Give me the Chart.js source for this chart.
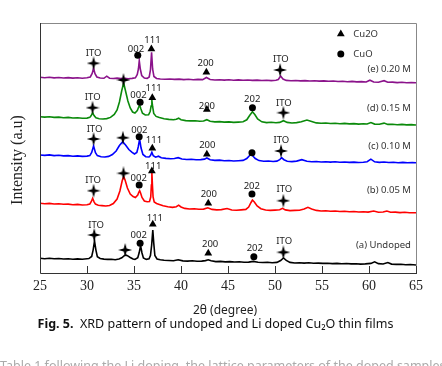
<!DOCTYPE html>
<html>
<head>
<meta charset="utf-8">
<script src="https://cdn.jsdelivr.net/npm/chart.js@4.4.0/dist/chart.umd.min.js"></script>
<style>
  html, body { margin: 0; padding: 0; background: #fff; }
</style>
</head>
<body>
<canvas id="xrd" width="442" height="366"></canvas>
<script>
// [2theta, intensity] pairs, curves already stacked with their offsets (a.u.)
const undoped = [
  [25.0, 14.7], [25.5, 14.3], [26.0, 14.8], [26.5, 14.2], [27.0, 14.5], [27.5, 14.0], [28.0, 14.3],
  [28.5, 13.8], [29.0, 14.1], [29.5, 13.7], [30.0, 14.2], [30.2, 14.4], [30.5, 16.5], [30.65, 22.9],
  [30.8, 32.0], [30.95, 22.9], [31.1, 16.3], [31.4, 14.5], [31.8, 13.9], [32.2, 13.6], [32.6, 13.8],
  [33.0, 13.3], [33.4, 13.9], [33.7, 15.2], [34.0, 17.5], [34.1, 18.0], [34.3, 17.3], [34.6, 15.5],
  [34.9, 14.0], [35.1, 13.6], [35.4, 15.2], [35.55, 20.2], [35.7, 27.3], [35.85, 20.0], [36.0, 15.0],
  [36.3, 13.6], [36.6, 14.2], [36.75, 17.5], [36.88, 28.0], [37.0, 43.0], [37.1, 30.0], [37.22, 17.5],
  [37.45, 14.0], [37.8, 13.3], [38.2, 12.8], [38.7, 12.5], [39.2, 12.3], [39.7, 13.2], [40.2, 12.1],
  [40.7, 11.9], [41.2, 12.2], [41.7, 11.7], [42.2, 11.9], [42.6, 12.4], [42.9, 13.2], [43.2, 12.2],
  [43.7, 11.4], [44.2, 11.6], [44.7, 11.1], [45.2, 11.4], [45.7, 11.0], [46.2, 11.2], [46.7, 10.7],
  [47.2, 10.9], [47.7, 11.6], [48.2, 10.8], [48.7, 10.5], [49.2, 10.7], [49.7, 10.3], [50.2, 10.6],
  [50.6, 12.5], [50.9, 15.0], [51.2, 12.6], [51.6, 10.6], [52.1, 10.0], [52.6, 10.3], [53.1, 9.9],
  [53.6, 10.2], [54.1, 9.8], [54.6, 9.9], [55.1, 9.6], [55.6, 9.8], [56.1, 9.4], [56.6, 9.6],
  [57.1, 9.2], [57.6, 9.5], [58.1, 9.1], [58.6, 9.3], [59.1, 8.9], [59.6, 9.1], [60.2, 9.6],
  [60.6, 11.2], [61.0, 9.4], [61.5, 9.0], [62.0, 10.4], [62.4, 8.9], [62.9, 8.6], [63.4, 8.8],
  [63.9, 8.3], [64.4, 8.5], [65.0, 8.0]
]
const li005 = [
  [25.0, 69.7], [25.5, 69.3], [26.0, 69.6], [26.5, 69.0], [27.0, 69.2], [27.5, 68.7], [28.0, 68.9],
  [28.5, 68.3], [29.0, 68.6], [29.5, 68.0], [30.0, 68.2], [30.3, 69.0], [30.45, 71.3], [30.6, 74.7],
  [30.75, 71.2], [30.9, 68.9], [31.2, 67.8], [31.6, 67.4], [32.0, 67.0], [32.4, 67.5], [32.8, 69.5],
  [33.2, 74.0], [33.5, 82.0], [33.75, 92.5], [33.9, 96.3], [34.05, 93.0], [34.3, 85.0], [34.6, 79.0],
  [34.9, 76.5], [35.15, 75.5], [35.4, 78.0], [35.5, 80.5], [35.6, 82.3], [35.7, 80.0], [35.85, 75.5],
  [36.1, 72.0], [36.4, 71.3], [36.65, 71.5], [36.78, 76.0], [36.85, 88.0], [36.9, 101.3], [36.96, 88.0],
  [37.03, 76.0], [37.15, 71.0], [37.4, 69.5], [37.7, 68.5], [38.1, 67.2], [38.6, 66.3], [39.1, 65.6],
  [39.5, 66.3], [39.75, 67.8], [40.0, 66.0], [40.4, 64.6], [40.9, 64.0], [41.4, 64.3], [41.9, 63.7],
  [42.4, 63.9], [42.85, 65.2], [43.3, 63.6], [43.8, 63.1], [44.3, 63.4], [44.9, 64.5], [45.4, 63.0],
  [45.9, 62.7], [46.4, 63.1], [46.9, 63.6], [47.2, 66.0], [47.45, 70.5], [47.6, 73.0], [47.8, 71.0],
  [48.1, 67.0], [48.5, 64.3], [49.0, 63.0], [49.5, 62.6], [50.0, 62.9], [50.5, 63.2], [50.8, 64.7],
  [51.1, 63.1], [51.6, 62.4], [52.1, 62.6], [52.6, 62.8], [53.1, 64.0], [53.5, 65.7], [53.9, 64.0],
  [54.4, 62.6], [54.9, 62.0], [55.4, 62.3], [55.9, 61.8], [56.4, 62.0], [56.9, 61.5], [57.4, 61.8],
  [57.9, 61.2], [58.4, 61.5], [58.9, 61.0], [59.4, 61.3], [59.9, 60.9], [60.5, 62.0], [61.0, 60.8],
  [61.5, 61.0], [61.9, 62.0], [62.3, 60.7], [62.8, 60.9], [63.3, 60.4], [63.8, 60.7], [64.3, 60.3],
  [65.0, 60.3]
]
const li010 = [
  [25.0, 118.0], [25.5, 117.6], [26.0, 118.1], [26.5, 117.4], [27.0, 117.7], [27.5, 117.1], [28.0, 117.4],
  [28.5, 116.8], [29.0, 117.1], [29.5, 116.6], [30.0, 116.9], [30.3, 117.4], [30.5, 120.5], [30.7, 127.0],
  [30.9, 120.3], [31.1, 117.4], [31.5, 116.3], [31.9, 116.0], [32.3, 116.6], [32.7, 118.5], [33.1, 122.0],
  [33.45, 127.5], [33.8, 131.3], [34.1, 128.0], [34.45, 123.5], [34.8, 120.6], [35.05, 119.0], [35.3, 120.5],
  [35.45, 126.0], [35.6, 134.0], [35.75, 125.0], [35.95, 118.5], [36.25, 116.3], [36.6, 116.0], [36.75, 117.5],
  [36.9, 120.7], [37.05, 117.3], [37.3, 115.8], [37.6, 116.8], [37.9, 115.2], [38.4, 114.6], [38.9, 114.2],
  [39.3, 114.5], [39.7, 115.3], [40.1, 114.0], [40.6, 113.5], [41.1, 113.7], [41.6, 113.2], [42.1, 113.4],
  [42.5, 113.9], [42.75, 115.0], [43.1, 113.3], [43.6, 112.6], [44.1, 112.9], [44.6, 112.3], [45.1, 112.5],
  [45.6, 112.0], [46.1, 112.3], [46.6, 112.6], [47.0, 114.5], [47.25, 117.0], [47.4, 118.7], [47.6, 117.5],
  [47.9, 114.5], [48.3, 112.4], [48.8, 111.8], [49.3, 112.0], [49.8, 111.5], [50.2, 111.9], [50.5, 113.3],
  [50.7, 115.3], [50.95, 113.3], [51.3, 111.8], [51.8, 111.4], [52.3, 111.9], [52.85, 113.3], [53.4, 111.8],
  [53.9, 111.2], [54.4, 111.5], [54.9, 111.0], [55.4, 111.3], [55.9, 110.9], [56.4, 111.2], [56.9, 110.7],
  [57.4, 111.0], [57.9, 110.6], [58.4, 110.9], [58.9, 110.5], [59.4, 110.8], [59.8, 111.3], [60.2, 113.8],
  [60.6, 111.2], [61.1, 110.6], [61.6, 111.0], [62.1, 110.5], [62.6, 110.8], [63.1, 110.3], [63.6, 110.6],
  [64.1, 110.2], [64.6, 110.5], [65.0, 110.3]
]
const li015 = [
  [25.0, 156.3], [25.5, 155.9], [26.0, 156.2], [26.5, 155.6], [27.0, 155.9], [27.5, 155.3], [28.0, 155.6],
  [28.5, 155.0], [29.0, 155.3], [29.5, 154.7], [30.0, 154.9], [30.3, 155.6], [30.45, 157.5], [30.6, 160.3],
  [30.75, 157.4], [30.95, 155.2], [31.3, 154.3], [31.7, 154.0], [32.1, 154.4], [32.5, 155.6], [32.9, 158.5],
  [33.2, 163.0], [33.45, 171.0], [33.7, 182.5], [33.9, 190.0], [34.1, 182.0], [34.35, 172.0], [34.6, 165.0],
  [34.85, 161.0], [35.1, 160.0], [35.35, 162.5], [35.5, 166.0], [35.6, 168.0], [35.72, 164.5], [35.9, 159.8],
  [36.2, 158.0], [36.55, 158.2], [36.72, 161.5], [36.82, 167.0], [36.9, 173.0], [36.98, 166.5], [37.1, 159.5],
  [37.35, 156.6], [37.7, 155.4], [38.2, 154.3], [38.7, 153.6], [39.2, 153.2], [39.5, 153.8], [39.75, 154.8],
  [40.0, 153.3], [40.5, 152.4], [41.0, 152.1], [41.5, 152.3], [42.0, 151.7], [42.4, 152.0], [42.75, 153.3],
  [43.1, 151.8], [43.6, 151.1], [44.1, 151.4], [44.6, 150.9], [45.1, 151.1], [45.6, 150.6], [46.1, 150.9],
  [46.6, 151.3], [47.0, 153.2], [47.3, 157.5], [47.6, 161.3], [47.85, 158.5], [48.15, 154.0], [48.6, 151.2],
  [49.1, 150.4], [49.6, 150.7], [50.1, 150.2], [50.5, 150.6], [50.9, 152.3], [51.3, 150.6], [51.8, 150.0],
  [52.3, 150.4], [52.8, 151.2], [53.4, 153.0], [53.9, 151.5], [54.4, 150.1], [54.9, 149.7], [55.4, 150.0],
  [55.9, 149.5], [56.4, 149.8], [56.9, 149.3], [57.4, 149.6], [57.9, 149.1], [58.4, 149.4], [58.9, 148.9],
  [59.4, 149.2], [59.8, 149.0], [60.2, 150.5], [60.6, 148.9], [61.1, 148.7], [61.6, 149.9], [62.0, 148.6],
  [62.5, 148.8], [63.0, 148.3], [63.5, 148.6], [64.0, 148.1], [64.5, 148.4], [65.0, 148.0]
]
const li020 = [
  [25.0, 195.7], [25.5, 195.3], [26.0, 195.8], [26.5, 195.1], [27.0, 195.5], [27.5, 195.0], [28.0, 195.4],
  [28.5, 194.9], [29.0, 195.3], [29.5, 194.8], [30.0, 195.2], [30.35, 196.0], [30.55, 199.5], [30.7, 204.7],
  [30.85, 199.3], [31.05, 196.0], [31.4, 195.0], [31.8, 194.7], [32.1, 196.8], [32.4, 194.8], [32.8, 194.5],
  [33.2, 194.9], [33.6, 194.4], [34.0, 194.7], [34.4, 194.3], [34.8, 194.6], [35.15, 195.2], [35.35, 198.5],
  [35.47, 204.0], [35.56, 212.3], [35.67, 204.0], [35.82, 197.5], [36.1, 195.0], [36.4, 194.6], [36.62, 196.0],
  [36.75, 203.0], [36.87, 220.7], [36.98, 204.0], [37.12, 196.5], [37.4, 194.5], [37.8, 194.0], [38.3, 193.7],
  [38.8, 194.0], [39.3, 193.6], [39.8, 193.9], [40.3, 193.4], [40.8, 193.7], [41.3, 193.3], [41.8, 193.6],
  [42.3, 193.4], [42.7, 195.5], [43.1, 193.5], [43.6, 193.0], [44.1, 193.3], [44.6, 192.9], [45.1, 193.2],
  [45.6, 192.8], [46.1, 193.1], [46.6, 192.7], [47.1, 193.0], [47.6, 192.6], [48.1, 192.9], [48.6, 192.5],
  [49.1, 192.8], [49.6, 192.4], [50.1, 192.7], [50.35, 193.5], [50.6, 197.0], [50.85, 194.0], [51.2, 192.6],
  [51.7, 192.3], [52.2, 192.5], [52.7, 192.1], [53.2, 192.4], [53.7, 192.0], [54.2, 192.3], [54.7, 191.9],
  [55.2, 192.1], [55.7, 191.7], [56.2, 192.0], [56.7, 191.5], [57.2, 191.8], [57.7, 191.3], [58.2, 191.6],
  [58.7, 191.1], [59.2, 191.4], [59.7, 191.0], [60.1, 192.8], [60.5, 191.0], [61.0, 190.8], [61.6, 192.3],
  [62.0, 190.7], [62.5, 190.9], [63.0, 190.4], [63.5, 190.7], [64.0, 190.3], [64.5, 190.5], [65.0, 190.3]
]

// phase markers [2theta, a.u.]
const cu2oMarks = [
  [36.85, 224], [42.7, 200.7], [36.95, 175.3], [42.75, 163.5], [36.95, 124.7], [42.75, 118.7],
  [36.9, 102], [42.9, 69.7], [37.0, 48.7], [42.9, 19.7], [57.0, 239]
]
const cuoMarks = [
  [35.4, 217.7], [35.65, 170.7], [47.6, 165.3], [35.55, 136.3], [47.55, 120.3], [35.55, 88],
  [47.55, 79], [35.65, 29.7], [47.75, 16.3], [57.0, 219]
]
const itoMarks = [
  [30.7, 209.7], [50.54, 203], [33.88, 193], [30.59, 165.3], [50.89, 160.3], [30.7, 134],
  [33.82, 135.3], [50.64, 122], [30.7, 82.3], [33.88, 99.7], [50.89, 72.3], [30.77, 38],
  [34.06, 23], [50.89, 20.7]
]
const peakLabels = [
  ['ITO', 30.7, 219.7], ['002', 35.21, 223.7], ['111', 36.97, 232.3], ['200', 42.62, 209.7], ['ITO', 50.62, 213.7],
  ['ITO', 30.61, 175.3], ['002', 35.48, 178], ['111', 37.09, 184.7], ['200', 42.75, 167], ['202', 47.58, 174], ['ITO', 50.94, 169.7],
  ['ITO', 30.8, 144], ['002', 35.57, 143], ['111', 37.13, 132.3], ['200', 42.8, 127.3], ['ITO', 50.67, 133],
  ['ITO', 30.65, 93], ['002', 35.5, 94.7], ['111', 37.04, 107], ['200', 42.96, 79], ['202', 47.53, 87], ['ITO', 51.0, 83.7],
  ['ITO', 30.96, 48], ['002', 35.5, 38], ['111', 37.22, 54.7], ['200', 43.1, 28.7], ['202', 47.85, 24.7], ['ITO', 50.98, 31.3]
]
const curveNames = [
  ['(e) 0.20 M', 203.7], ['(d) 0.15 M', 164.7], ['(c) 0.10 M', 126.3], ['(b) 0.05 M', 83], ['(a) Undoped', 28]
]
const legendNames = [['Cu2O', 239], ['CuO', 219]]
const xTicks = [25, 30, 35, 40, 45, 50, 55, 60, 65]

function toXY(pairs) {
  return pairs.map(function(p) { return { x: p[0], y: p[1] } })
}

function makeStar(size) {
  const c = document.createElement('canvas')
  c.width = size
  c.height = size
  const g = c.getContext('2d')
  const m = size / 2
  const w = 1.5
  g.fillStyle = '#000'
  g.beginPath()
  g.moveTo(m, 0)
  g.lineTo(m + w, m - w)
  g.lineTo(size, m)
  g.lineTo(m + w, m + w)
  g.lineTo(m, size)
  g.lineTo(m - w, m + w)
  g.lineTo(0, m)
  g.lineTo(m - w, m - w)
  g.closePath()
  g.fill()
  return c
}

function lineSet(pairs, color) {
  return {
    type: 'line',
    data: toXY(pairs),
    borderColor: color,
    borderWidth: 1.6,
    pointRadius: 0,
    tension: 0,
    fill: false
  }
}

function markSet(pairs, style, r) {
  return {
    type: 'scatter',
    data: toXY(pairs),
    pointStyle: style,
    pointRadius: r,
    backgroundColor: '#000',
    borderColor: '#000',
    borderWidth: 0
  }
}

const decorations = {
  id: 'decorations',
  afterDraw(chart) {
    const ctx = chart.ctx
    const a = chart.chartArea
    const x = chart.scales.x
    const y = chart.scales.y
    ctx.save()

    // frame
    ctx.lineWidth = 1
    ctx.strokeStyle = '#888'
    ctx.beginPath()
    ctx.moveTo(a.left, a.top + 0.5)
    ctx.lineTo(a.right + 0.5, a.top + 0.5)
    ctx.lineTo(a.right + 0.5, a.bottom)
    ctx.stroke()
    ctx.strokeStyle = '#333'
    ctx.beginPath()
    ctx.moveTo(a.left + 0.5, a.top)
    ctx.lineTo(a.left + 0.5, a.bottom + 0.5)
    ctx.lineTo(a.right + 1, a.bottom + 0.5)
    ctx.stroke()

    // inward tick marks
    xTicks.forEach(function(v) {
      const px = Math.round(x.getPixelForValue(v)) + 0.5
      ctx.beginPath()
      ctx.moveTo(px, a.bottom)
      ctx.lineTo(px, a.bottom - 7)
      ctx.stroke()
    })

    // peak labels
    ctx.fillStyle = '#222'
    ctx.font = '9.5px "Noto Sans"'
    ctx.textAlign = 'center'
    ctx.textBaseline = 'middle'
    peakLabels.forEach(function(l) {
      ctx.fillText(l[0], x.getPixelForValue(l[1]), y.getPixelForValue(l[2]))
    })

    ctx.fillStyle = '#333'
    ctx.textAlign = 'right'
    curveNames.forEach(function(l) {
      ctx.fillText(l[0], x.getPixelForValue(64.46), y.getPixelForValue(l[1]))
    })
    ctx.textAlign = 'left'
    legendNames.forEach(function(l) {
      ctx.fillText(l[0], x.getPixelForValue(58.33), y.getPixelForValue(l[1]))
    })

    // axis titles
    ctx.fillStyle = '#222'
    ctx.save()
    ctx.translate(18, 160)
    ctx.rotate(-Math.PI / 2)
    ctx.textAlign = 'center'
    ctx.font = '16px "Liberation Serif"'
    ctx.fillText('Intensity (a.u)', 0, 0)
    ctx.restore()

    ctx.textAlign = 'center'
    ctx.font = '12px "Noto Sans"'
    ctx.fillText('2θ (degree)', 225, 311)

    // caption
    const bold = 'Fig. 5.'
    const rest = '  XRD pattern of undoped and Li doped Cu₂O thin films'
    ctx.font = 'bold 12.5px "Noto Sans"'
    const wb = ctx.measureText(bold).width
    ctx.font = '12.5px "Noto Sans"'
    const wr = ctx.measureText(rest).width
    const x0 = 215.5 - (wb + wr) / 2
    ctx.textAlign = 'left'
    ctx.fillStyle = '#111'
    ctx.font = 'bold 12.5px "Noto Sans"'
    ctx.fillText(bold, x0, 324)
    ctx.font = '12.5px "Noto Sans"'
    ctx.fillText(rest, x0 + wb, 324)

    // next text line, cut by the bottom edge
    ctx.fillStyle = '#aaa'
    ctx.textBaseline = 'alphabetic'
    ctx.fillText('Table 1 following the Li doping, the lattice parameters of the doped samples', 0, 370)
    ctx.restore()
  }
}

const datasets = [
  markSet(cu2oMarks, 'triangle', 4.5),
  markSet(cuoMarks, 'circle', 3.5),
  markSet(itoMarks, makeStar(14), 7),
  lineSet(li020, '#8b138b'),
  lineSet(li015, '#0b8a0b'),
  lineSet(li010, '#0000ff'),
  lineSet(li005, '#ff0000'),
  lineSet(undoped, '#000000')
]

new Chart(document.getElementById('xrd'), {
  data: { datasets: datasets },
  options: {
    responsive: false,
    animation: false,
    events: [],
    layout: { padding: { left: 40, top: 23, right: 26, bottom: 0 } },
    plugins: { legend: { display: false }, tooltip: { enabled: false } },
    scales: {
      x: {
        type: 'linear',
        min: 25,
        max: 65,
        afterBuildTicks: function(s) { s.ticks = xTicks.map(function(v) { return { value: v } }) },
        afterFit: function(s) { s.height = 93 },
        grid: { display: false, drawTicks: false },
        border: { display: false },
        ticks: {
          font: { family: '"Liberation Serif"', size: 14 },
          color: '#222',
          padding: 5,
          maxRotation: 0,
          autoSkip: false
        }
      },
      y: { display: false, min: 0, max: 250 }
    }
  },
  plugins: [decorations]
})
</script>
</body>
</html>
